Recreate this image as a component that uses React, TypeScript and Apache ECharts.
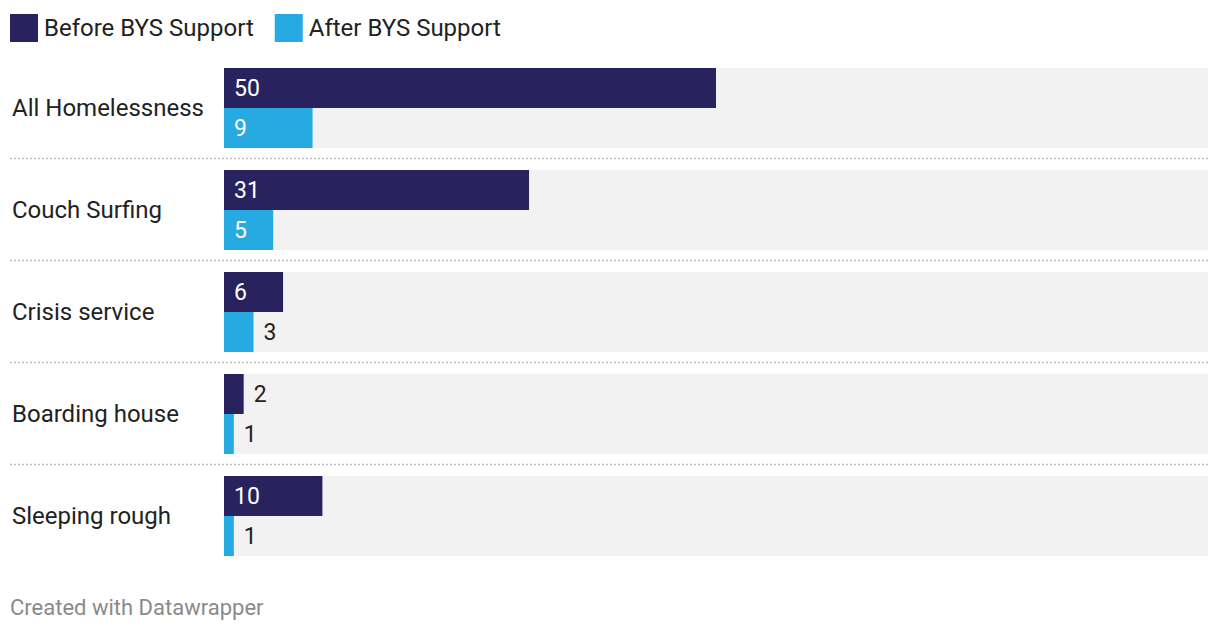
import React, { useEffect, useRef } from "react";
import * as echarts from "echarts";

const categories = ["All Homelessness", "Couch Surfing", "Crisis service", "Boarding house", "Sleeping rough"];
const beforeValues = [50, 31, 6, 2, 10];
const afterValues = [9, 5, 3, 1, 1];
const seriesNames = ["Before BYS Support", "After BYS Support"];
const footerText = "Created with Datawrapper";

const DARK = "#28225f";
const LIGHT = "#27a9e1";
const FONT = "Roboto";

function buildData(values: number[]) {
  return values.map((v) => {
    const inside = v >= 5;
    return {
      value: v,
      label: {
        show: true,
        position: inside ? "insideLeft" : "right",
        distance: 10,
        color: inside ? "#ffffff" : "#222222",
        fontSize: 23,
        fontFamily: FONT,
      },
    };
  });
}

export default function App() {
  const ref = useRef<HTMLDivElement>(null);
  useEffect(() => {
    if (!ref.current) return;
    const chart = echarts.init(ref.current, null, { renderer: "svg" });
    const common = {
      type: "bar",
      barWidth: 40,
      barGap: "0%",
      showBackground: true,
      backgroundStyle: { color: "#f2f2f2" },
      emphasis: { disabled: true },
    };
    chart.setOption({
      animation: false,
      backgroundColor: "#ffffff",
      textStyle: { fontFamily: FONT },
      legend: {
        left: 10,
        top: 14,
        padding: 0,
        icon: "rect",
        itemWidth: 28,
        itemHeight: 28,
        itemGap: 21,
        selectedMode: false,
        textStyle: { fontSize: 24, color: "#222222", fontFamily: FONT, padding: [0, 0, 3, 1] },
        data: seriesNames,
      },
      grid: { left: 224, right: 12, top: 57, height: 510 },
      xAxis: { type: "value", min: 0, max: 100, show: false },
      yAxis: {
        type: "category",
        inverse: true,
        data: categories,
        axisLine: { show: false },
        axisTick: { show: false },
        splitLine: { show: false },
        axisLabel: {
          align: "left",
          margin: 212,
          fontSize: 24,
          color: "#222222",
          fontFamily: FONT,
        },
      },
      series: [
        { ...common, name: seriesNames[0], itemStyle: { color: DARK }, data: buildData(beforeValues) },
        { ...common, name: seriesNames[1], itemStyle: { color: LIGHT }, data: buildData(afterValues) },
      ],
    });

    const graphics: any[] = [];
    for (let i = 0; i < categories.length - 1; i++) {
      const a = chart.convertToPixel({ yAxisIndex: 0 }, categories[i]) as number;
      const b = chart.convertToPixel({ yAxisIndex: 0 }, categories[i + 1]) as number;
      const y = Math.round((a + b) / 2) - 0.5;
      graphics.push({
        type: "line",
        shape: { x1: 10, y1: y, x2: 1208, y2: y },
        style: { stroke: "#bdbdbd", lineWidth: 1.5, lineDash: [2, 2] },
        silent: true,
      });
    }
    graphics.push({
      type: "text",
      left: 10,
      top: 596,
      style: { text: footerText, fill: "#8a8a8a", fontSize: 22, fontFamily: FONT },
      silent: true,
    });
    chart.setOption({ graphic: graphics });

    return () => chart.dispose();
  }, []);
  return <div ref={ref} style={{ width: 1220, height: 634, position: "absolute", left: 0, top: 0 }} />;
}
